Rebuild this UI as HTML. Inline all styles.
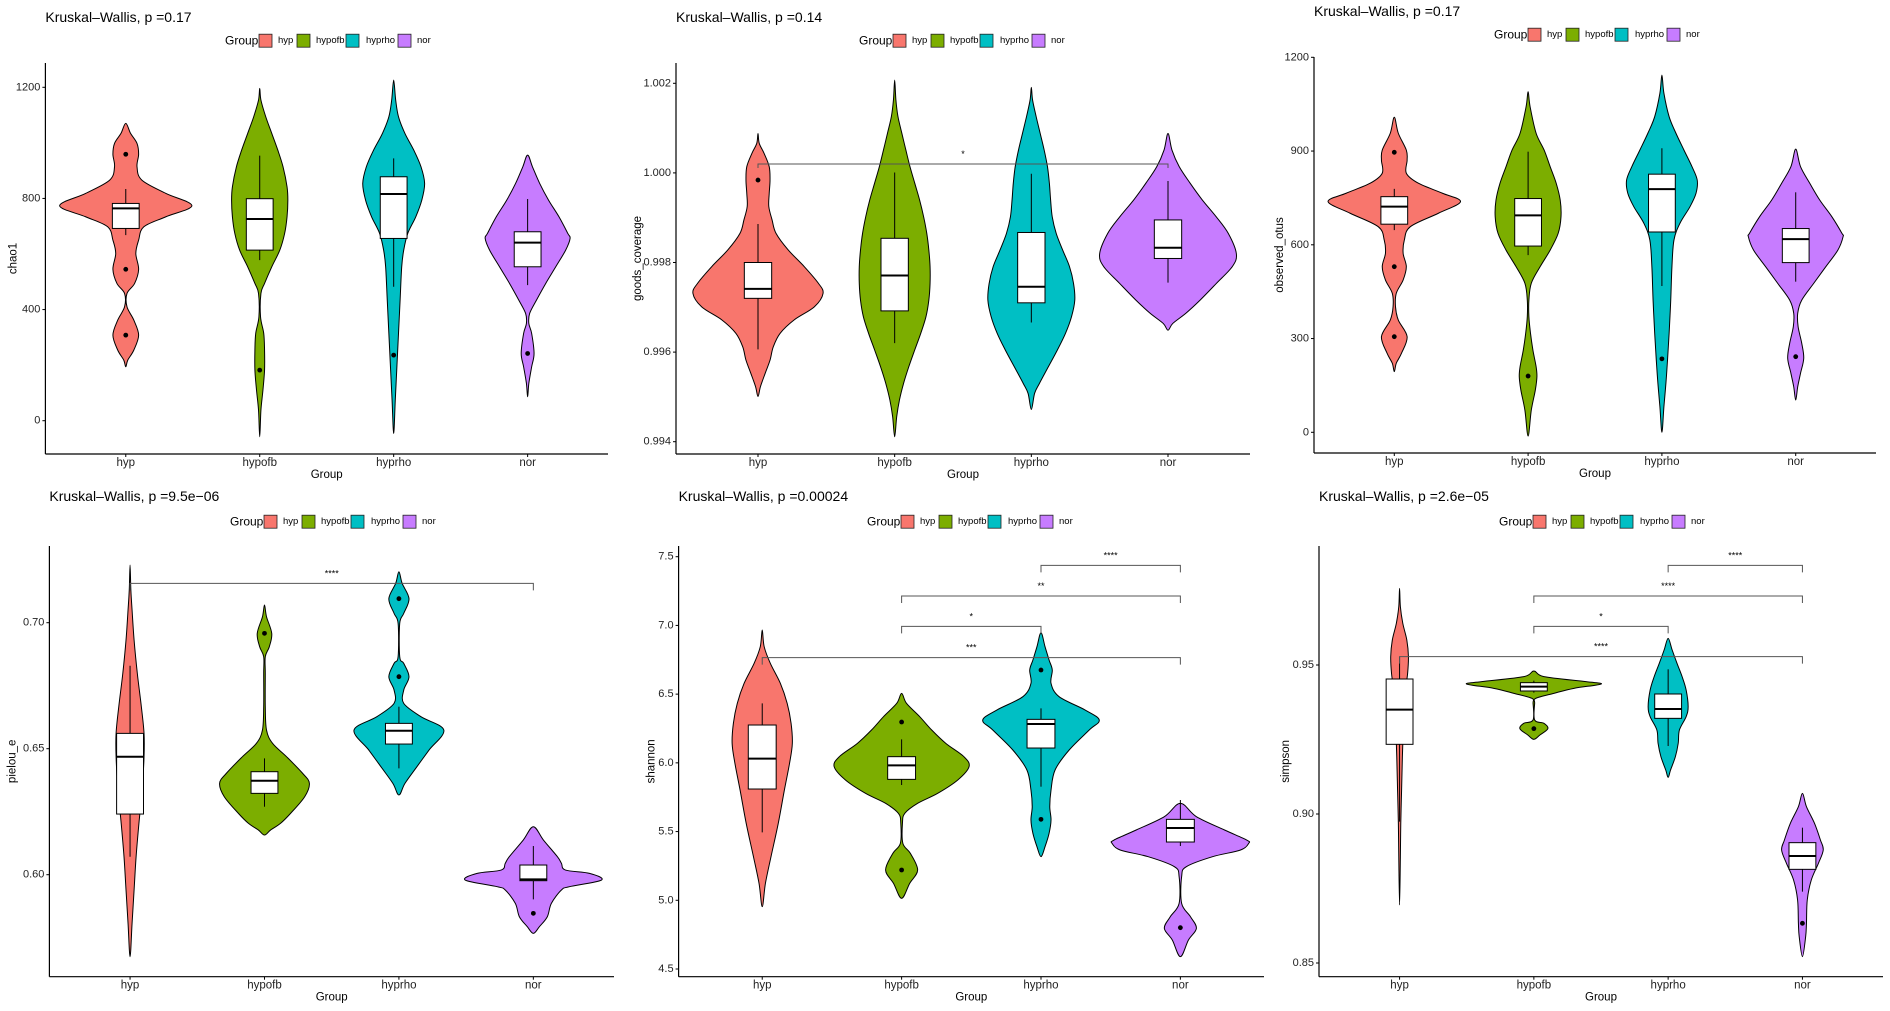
<!DOCTYPE html>
<html><head><meta charset="utf-8"><title>Alpha diversity violin plots</title>
<style>
html,body{margin:0;padding:0;background:#fff;}
svg{display:block;font-family:"Liberation Sans",Arial,sans-serif;}
</style></head>
<body>
<svg id="chart" width="1890" height="1011" viewBox="0 0 1890 1011" xmlns="http://www.w3.org/2000/svg"></svg>
<script>
const categories = ["hyp","hypofb","hyprho","nor"];
const fills = ["#F8766D","#7CAE00","#00BFC4","#C77CFF"];

// ---- chao1 ----
const chao1_title = "Kruskal\u2013Wallis, p =0.17";
const chao1_ticks = [0,400,800,1200];
const chao1_levels = [
 [1070,1034,998,959,914,866,818,774,734,698,650,602,545,494,458,410,362,308,254,218,194],
 [1196,1154,1094,1034,974,914,842,794,734,674,614,554,494,458,374,314,254,182,110,38,-58],
 [1226,1154,1094,1034,974,914,854,794,734,674,614,554,434,314,194,74,-46],
 [956,914,854,794,734,674,656,614,554,494,434,386,350,314,242,194,134,86]];
const chao1_widths = [
 [0,.036,.084,.096,.084,.12,.3,.494,.3,.135,.096,.075,.096,.066,.009,.009,.06,.096,.06,.015,0],
 [0,.009,.045,.09,.135,.174,.204,.21,.204,.186,.15,.09,.036,.009,.006,.03,.036,.036,.024,.009,0],
 [0,.015,.036,.084,.15,.204,.231,.21,.165,.105,.075,.06,.048,.036,.024,.012,0],
 [0,.036,.09,.156,.234,.3,.317,.284,.21,.135,.066,.015,.009,.03,.048,.03,.009,0]];
const chao1_box = [[668,692,764,782,834],[578,614,726,799,954],[482,656,816,878,944],[488,554,641,680,798]];
const chao1_outliers = [[959,545,308],[182],[236],[242]];
const chao1_brackets = [];

// ---- goods_coverage ----
const goods_title = "Kruskal\u2013Wallis, p =0.14";
const goods_ticks = [0.994,0.996,0.998,1.000,1.002];
const goods_levels = [
 [1.00088,1.00066,1.00044,1.00014,0.99984,0.99954,0.99925,0.99895,0.99865,0.99828,0.99791,0.99754,0.99731,0.99701,0.99672,0.99642,0.99612,0.99582,0.99553,0.99523,0.99501],
 [1.00207,1.00163,1.00126,1.00088,1.00051,1.00014,0.99977,0.99940,0.99902,0.99865,0.99828,0.99791,0.99753,0.99716,0.99679,0.99642,0.99605,0.99567,0.99530,0.99493,0.99456,0.99411],
 [1.00191,1.00163,1.00126,1.00088,1.00051,1.00014,0.99977,0.99940,0.99902,0.99865,0.99828,0.99791,0.99753,0.99716,0.99679,0.99642,0.99605,0.99567,0.99530,0.99508,0.99472],
 [1.00088,1.00051,1.00014,0.99977,0.99940,0.99902,0.99865,0.99820,0.99791,0.99753,0.99716,0.99687,0.99664,0.99649]];
const goods_widths = [
 [0,.009,.044,.082,.088,.082,.079,.103,.132,.221,.338,.441,.476,.412,.265,.162,.112,.088,.053,.018,0],
 [0,.009,.024,.053,.082,.112,.147,.182,.212,.235,.25,.259,.259,.25,.229,.191,.147,.103,.065,.035,.015,0],
 [0,.009,.035,.065,.094,.118,.132,.141,.153,.182,.229,.279,.309,.318,.294,.25,.191,.124,.059,.024,0],
 [0,.029,.082,.162,.25,.353,.441,.5,.471,.353,.235,.132,.035,0]];
const goods_box = [[0.99606,0.99720,0.99741,0.99800,0.99886],[0.99620,0.99692,0.99771,0.99854,1.00001],[0.99666,0.99710,0.99746,0.99867,0.99998],[0.99755,0.99809,0.99833,0.99895,0.99982]];
const goods_outliers = [[0.99984],[],[],[]];
const goods_brackets = [[0,3,1.0002,"*"]];

// ---- observed_otus ----
const otus_title = "Kruskal\u2013Wallis, p =0.17";
const otus_ticks = [0,300,600,900,1200];
const otus_levels = [
 [1008,957,903,871,829,797,765,738,701,658,615,573,530,487,445,402,359,306,253,221,194],
 [1090,1042,957,903,850,797,743,690,637,583,530,477,423,370,317,263,210,178,135,71,-12],
 [1143,1085,1010,957,903,850,807,765,722,669,615,530,423,317,231,157,82,0],
 [906,850,797,743,690,637,626,583,530,477,423,381,338,285,237,189,146,103]];
const otus_widths = [
 [0,.03,.09,.096,.09,.18,.36,.495,.33,.12,.075,.066,.09,.066,.015,.009,.03,.096,.054,.015,0],
 [0,.015,.06,.12,.165,.21,.24,.246,.225,.165,.09,.024,.006,.006,.018,.036,.06,.066,.054,.024,0],
 [0,.015,.054,.105,.165,.225,.264,.255,.21,.135,.09,.075,.066,.054,.042,.03,.015,0],
 [0,.036,.105,.18,.27,.345,.354,.315,.225,.135,.045,.015,.018,.045,.06,.036,.015,0]];
const otus_box = [[647,666,722,754,779],[567,596,694,748,898],[468,641,778,826,909],[482,543,618,652,768]];
const otus_outliers = [[896,530,306],[180],[235],[242]];
const otus_brackets = [];

// ---- pielou_e ----
const pielou_title = "Kruskal\u2013Wallis, p =9.5e\u221206";
const pielou_ticks = [0.60,0.65,0.70];
const pielou_levels = [
 [0.72288,0.71296,0.70503,0.69312,0.67989,0.66667,0.65608,0.64683,0.63360,0.62037,0.60714,0.59392,0.58069,0.56746],
 [0.70701,0.70238,0.69577,0.69048,0.68651,0.67989,0.66667,0.65741,0.65212,0.64683,0.64021,0.63624,0.63095,0.62434,0.62037,0.61772,0.61574],
 [0.72024,0.71561,0.70952,0.70370,0.69974,0.68651,0.68386,0.67857,0.67328,0.66799,0.66270,0.65741,0.64947,0.64286,0.63624,0.63161],
 [0.61905,0.61376,0.60714,0.60450,0.60185,0.60053,0.59788,0.59524,0.59392,0.58862,0.58333,0.57937,0.57672]];
const pielou_widths = [
 [0,.006,.015,.03,.054,.084,.104,.104,.09,.066,.045,.03,.015,0],
 [0,.015,.054,.036,.006,.006,.006,.015,.06,.164,.284,.334,.299,.194,.119,.045,0],
 [0,.024,.075,.036,.006,.006,.036,.075,.036,.036,.164,.334,.224,.134,.045,0],
 [0,.075,.179,.209,.239,.418,.507,.269,.209,.134,.104,.045,0]];
const pielou_box = [[0.60714,0.62407,0.64683,0.65608,0.68294],[0.62698,0.63228,0.63730,0.64087,0.64616],[0.64220,0.65185,0.65714,0.66005,0.66667],[0.59021,0.59762,0.59815,0.60384,0.61138]];
const pielou_outliers = [[],[0.69577],[0.70952,0.67857],[0.58466]];
const pielou_brackets = [[0,3,0.71561,"****"]];

// ---- shannon ----
const shannon_title = "Kruskal\u2013Wallis, p =0.00024";
const shannon_ticks = [4.5,5.0,5.5,6.0,6.5,7.0,7.5];
const shannon_levels = [
 [6.9664,6.8452,6.7239,6.5784,6.4329,6.2874,6.1419,5.9964,5.8023,5.5598,5.3173,5.1233,4.9535],
 [6.5057,6.4329,6.3359,6.2389,6.1419,6.0449,5.9721,5.8751,5.7781,5.7053,5.6326,5.5598,5.4143,5.3415,5.2203,5.1232,5.0141],
 [6.9471,6.8452,6.7482,6.6754,6.5784,6.4814,6.3844,6.3116,6.2389,6.0934,5.9479,5.8023,5.6811,5.5840,5.4870,5.3900,5.3173],
 [5.7053,5.6083,5.5113,5.4385,5.4143,5.3658,5.3173,5.2445,5.1718,4.9778,4.8807,4.7959,4.7110,4.5897]];
const shannon_widths = [
 [0,.014,.058,.13,.179,.207,.216,.196,.159,.115,.063,.023,0],
 [0,.035,.13,.216,.317,.447,.484,.403,.259,.115,.023,.006,.009,.063,.115,.058,0],
 [0,.029,.058,.081,.072,.13,.317,.418,.346,.202,.101,.072,.063,.072,.058,.029,0],
 [0,.115,.317,.476,.49,.432,.231,.043,.009,.009,.072,.115,.058,0]];
const shannon_box = [[5.4943,5.8096,6.0303,6.2753,6.4329],[5.8387,5.8799,5.9818,6.0449,6.1710],[5.8266,6.1079,6.2825,6.3165,6.3965],[5.3949,5.4240,5.5259,5.5889,5.7296]];
const shannon_outliers = [[],[6.2971,5.2203],[6.6754,5.5889],[4.8007]];
const shannon_brackets = [[2,3,7.4369,"****"],[1,3,7.2138,"**"],[1,2,6.9931,"*"],[0,3,6.7652,"***"]];

// ---- simpson ----
const simpson_title = "Kruskal\u2013Wallis, p =2.6e\u221205";
const simpson_ticks = [0.85,0.90,0.95];
const simpson_levels = [
 [0.97573,0.96957,0.96398,0.95839,0.95280,0.94720,0.94161,0.93043,0.91924,0.90805,0.89687,0.88568,0.86946],
 [0.94799,0.94609,0.94441,0.94362,0.94217,0.94049,0.93881,0.93714,0.93154,0.93043,0.92864,0.92651,0.92506],
 [0.95895,0.95503,0.95056,0.94609,0.94161,0.93602,0.93266,0.92819,0.92371,0.91924,0.91477,0.91230],
 [0.90694,0.90246,0.89687,0.89128,0.88792,0.88345,0.87785,0.87114,0.86331,0.85884,0.85213]];
const simpson_widths = [
 [0,.006,.024,.054,.066,.06,.045,.03,.021,.015,.009,.006,0],
 [0,.075,.388,.501,.299,.149,.015,.006,.006,.075,.104,.045,0],
 [0,.03,.066,.104,.134,.149,.134,.084,.075,.054,.018,0],
 [0,.03,.09,.134,.155,.119,.066,.036,.03,.024,0]];
const simpson_box = [[0.89743,0.92338,0.93501,0.94530,0.95280],[0.94072,0.94128,0.94273,0.94407,0.94474],[0.92282,0.93210,0.93523,0.94027,0.94855],[0.87394,0.88143,0.88591,0.89038,0.89541]];
const simpson_outliers = [[],[0.92864],[],[0.86331]];
const simpson_brackets = [[2,3,0.98345,"****"],[1,3,0.97315,"****"],[1,2,0.96298,"*"],[0,3,0.95280,"****"]];

const NS = "http://www.w3.org/2000/svg";
const svg = document.getElementById("chart");
function mk(tag, attrs, parent){
  const e = document.createElementNS(NS, tag);
  for (const k in attrs) e.setAttribute(k, attrs[k]);
  (parent||svg).appendChild(e);
  return e;
}
function smoothClosed(pts){
  const n = pts.length; let d = "M"+pts[0][0].toFixed(2)+","+pts[0][1].toFixed(2);
  for (let i=0;i<n;i++){
    const p0=pts[(i-1+n)%n], p1=pts[i], p2=pts[(i+1)%n], p3=pts[(i+2)%n];
    const c1=[p1[0]+(p2[0]-p0[0])/6, p1[1]+(p2[1]-p0[1])/6];
    const c2=[p2[0]-(p3[0]-p1[0])/6, p2[1]-(p3[1]-p1[1])/6];
    d += "C"+c1[0].toFixed(2)+","+c1[1].toFixed(2)+" "+c2[0].toFixed(2)+","+c2[1].toFixed(2)+" "+p2[0].toFixed(2)+","+p2[1].toFixed(2);
  }
  return d+"Z";
}

function drawPanel(cfg){
  const g = mk("g", {});
  
  
  const yS = v => cfg.py1 + (v - cfg.v1) * (cfg.py2 - cfg.py1) / (cfg.v2 - cfg.v1);
  const band = (cfg.right - cfg.left) / 4.2;
  const xS = i => cfg.left + (0.6 + i) * band;

  const t = mk("text", {x: cfg.left, y: cfg.titleY, "font-size": 14, fill: "#000", "dominant-baseline": "central"}, g);
  t.textContent = cfg.title;
  
  

  const lg = mk("g", {}, g);
  
  
  const lt = mk("text", {x: cfg.legX, y: cfg.legY, "font-size": 12, fill: "#000", "dominant-baseline": "central"}, lg);
  lt.textContent = "Group";
  
  
  const swOff = [34, 72, 121, 173], labOff = [53, 91, 141, 192];
  categories.forEach((c, i) => {
    const r = mk("rect", {x: cfg.legX + swOff[i], y: cfg.legY - 6.5, width: 13, height: 13, fill: fills[i], stroke: "#222", "stroke-width": 0.8}, lg);
    
    
    const tx = mk("text", {x: cfg.legX + labOff[i], y: cfg.legY, "font-size": 9.5, fill: "#000", "dominant-baseline": "central"}, lg);
    tx.textContent = c;
    
    
  });

  cfg.levels.forEach((lv, i) => {
    const cx = xS(i), w = cfg.widths[i];
    const R = lv.map((v, k) => [cx + w[k] * band, yS(v)]);
    const L = lv.map((v, k) => [cx - w[k] * band, yS(v)]).reverse();
    const pts = R.concat(L.slice(1, L.length - 1));
    const p = mk("path", {d: smoothClosed(pts), fill: fills[i], stroke: "#000", "stroke-width": 1}, g);
    
    
    const b = cfg.box[i], bw = 0.1 * band;
    const wl = mk("line", {x1: cx, x2: cx, y1: yS(b[0]), y2: yS(b[4]), stroke: "#000", "stroke-width": 1}, g);
    
    
    const br = mk("rect", {x: cx - bw, y: yS(b[3]), width: 2 * bw, height: Math.max(1, yS(b[1]) - yS(b[3])), fill: "#fff", stroke: "#000", "stroke-width": 1}, g);
    
    
    const md = mk("line", {x1: cx - bw, x2: cx + bw, y1: yS(b[2]), y2: yS(b[2]), stroke: "#000", "stroke-width": 2}, g);
    
    
    cfg.outliers[i].forEach(o => {
      const c = mk("circle", {cx: cx, cy: yS(o), r: 2.4, fill: "#000"}, g);
      
      
    });
  });

  cfg.brackets.forEach(bk => {
    const x1 = xS(bk[0]), x2 = xS(bk[1]), y = yS(bk[2]), tl = cfg.tick || 7;
    const pl = mk("path", {d: `M${x1},${y + tl}L${x1},${y}L${x2},${y}L${x2},${y + tl}`, fill: "none", stroke: "#555", "stroke-width": 1}, g);
    
    
    const lb = mk("text", {x: (x1 + x2) / 2, y: y - 7, "font-size": 9, "text-anchor": "middle", fill: "#000"}, g);
    lb.textContent = bk[3];
    
    
  });

  const ya = mk("line", {x1: cfg.left, x2: cfg.left, y1: cfg.top, y2: cfg.axisY, stroke: "#000", "stroke-width": 1.2}, g);
  
  
  const xa = mk("line", {x1: cfg.left, x2: cfg.right, y1: cfg.axisY, y2: cfg.axisY, stroke: "#000", "stroke-width": 1.2}, g);
  
  
  cfg.ticks.forEach(tv => {
    const y = yS(tv);
    mk("line", {x1: cfg.left - 3, x2: cfg.left, y1: y, y2: y, stroke: "#000"}, g);
    const tx = mk("text", {x: cfg.left - 5, y: y, "font-size": 11, "text-anchor": "end", "dominant-baseline": "central", fill: "#222"}, g);
    tx.textContent = cfg.fmt(tv);
    
    
  });
  categories.forEach((c, i) => {
    const x = xS(i);
    mk("line", {x1: x, x2: x, y1: cfg.axisY, y2: cfg.axisY + 3, stroke: "#000"}, g);
    const tx = mk("text", {x: x, y: cfg.axisY + 9, "font-size": 11.5, "text-anchor": "middle", "dominant-baseline": "central", fill: "#222"}, g);
    tx.textContent = c;
    
    
  });
  const xt = mk("text", {x: (cfg.left + cfg.right) / 2, y: cfg.axisY + 21, "font-size": 11.5, "text-anchor": "middle", "dominant-baseline": "central", fill: "#000"}, g);
  xt.textContent = "Group";
  
  
  const yc = (cfg.top + cfg.axisY) / 2, yx = cfg.left - cfg.ylabOff;
  const yt = mk("text", {x: yx, y: yc, "font-size": 11.5, "text-anchor": "middle", "dominant-baseline": "central", fill: "#000", transform: `rotate(-90 ${yx} ${yc})`}, g);
  yt.textContent = cfg.ylab;
  
  
}

const f0 = v => String(v), f2 = v => v.toFixed(2), f3 = v => v.toFixed(3), f1 = v => v.toFixed(1);
drawPanel({name:"chao1", title:chao1_title, ylab:"chao1", ticks:chao1_ticks, fmt:f0, levels:chao1_levels, widths:chao1_widths, box:chao1_box, outliers:chao1_outliers, brackets:chao1_brackets,
  left:45.4, right:608, top:63, axisY:454, v1:1200, py1:87.3, v2:0, py2:420.7, titleY:17, legX:225, legY:40.7, ylabOff:32});
drawPanel({name:"goods-coverage", title:goods_title, ylab:"goods_coverage", ticks:goods_ticks, fmt:f3, levels:goods_levels, widths:goods_widths, box:goods_box, outliers:goods_outliers, brackets:goods_brackets, tick:4,
  left:676, right:1250, top:63, axisY:454, v1:1.002, py1:83.3, v2:0.994, py2:441.7, titleY:17, legX:859, legY:40.7, ylabOff:38});
drawPanel({name:"observed-otus", title:otus_title, ylab:"observed_otus", ticks:otus_ticks, fmt:f0, levels:otus_levels, widths:otus_widths, box:otus_box, outliers:otus_outliers, brackets:otus_brackets,
  left:1314, right:1876, top:57, axisY:453, v1:1200, py1:57.3, v2:0, py2:432.3, titleY:11, legX:1494, legY:34.7, ylabOff:34});
drawPanel({name:"pielou-e", title:pielou_title, ylab:"pielou_e", ticks:pielou_ticks, fmt:f2, levels:pielou_levels, widths:pielou_widths, box:pielou_box, outliers:pielou_outliers, brackets:pielou_brackets,
  left:49.4, right:614, top:546, axisY:976.7, v1:0.70, py1:622.7, v2:0.60, py2:874.7, titleY:496, legX:230, legY:521.7, ylabOff:37});
drawPanel({name:"shannon", title:shannon_title, ylab:"shannon", ticks:shannon_ticks, fmt:f1, levels:shannon_levels, widths:shannon_widths, box:shannon_box, outliers:shannon_outliers, brackets:shannon_brackets,
  left:678.6, right:1264, top:546, axisY:976.7, v1:7.5, py1:556.7, v2:4.5, py2:969, titleY:496, legX:867, legY:521.7, ylabOff:27});
drawPanel({name:"simpson", title:simpson_title, ylab:"simpson", ticks:simpson_ticks, fmt:f2, levels:simpson_levels, widths:simpson_widths, box:simpson_box, outliers:simpson_outliers, brackets:simpson_brackets,
  left:1319, right:1883, top:546, axisY:976.7, v1:0.95, py1:665, v2:0.85, py2:963, titleY:496, legX:1499, legY:521.7, ylabOff:33});
</script>
</body></html>
